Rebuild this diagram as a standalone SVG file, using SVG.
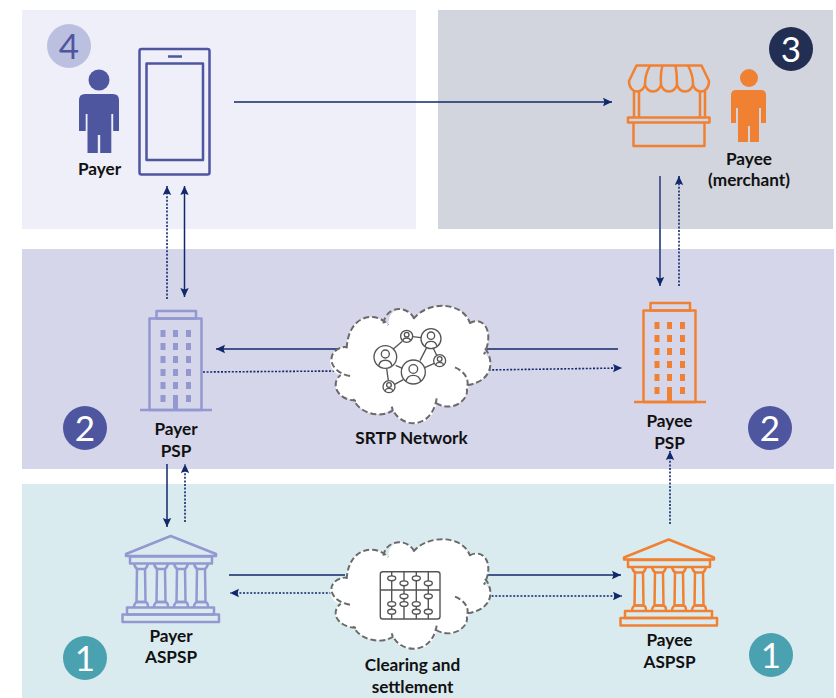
<svg xmlns="http://www.w3.org/2000/svg" xmlns:xlink="http://www.w3.org/1999/xlink" width="836" height="698" viewBox="0 0 836 698">
<style>
text{font-family:"Lato","Carlito","Open Sans",sans-serif}
.lbl{font-size:17.200px;font-weight:700;fill:#111;text-anchor:middle}
.num{font-size:35px;font-weight:400;fill:#fff;text-anchor:middle}
.ln{fill:none;stroke:#10296b;stroke-width:1.5}
.dot{stroke-dasharray:2 1.6;stroke-width:1.6}
.fade{stroke:#4f5f94;stroke-width:2}
.ic{fill:none;stroke:currentColor;stroke-width:2.5;stroke-linejoin:round}
.fl{fill:currentColor;stroke:none}
.purple{color:#4f56a0}
.lilac{color:#9498d0}
.orange{color:#f08133}
.cl{fill:#fff;stroke:none}
.cls{fill:none;stroke:#6a6a6a;stroke-width:6;stroke-dasharray:18 9}
.n{fill:none;stroke:#555;stroke-width:4}
.ab{fill:none;stroke:#555;stroke-width:1.4}
.bead{fill:#fff;stroke:#555;stroke-width:1.4}
</style>
<defs>
<marker id="a" markerUnits="userSpaceOnUse" markerWidth="10" markerHeight="10" refX="9" refY="5" orient="auto-start-reverse">
<path d="M0 0.8L9 5L0 9.2L1.5 5Z" fill="#10296b"/>
</marker>
<g id="building">
<rect class="ic" x="156.500" y="311" width="39.500" height="7.500"/>
<rect class="ic" x="149.500" y="318.500" width="52" height="91.500"/>
<path class="ic" d="M140 410H212"/>
<path class="fl" d="M160.500 330h5v7h-5zM173 330h5v7h-5zM186 330h5v7h-5zM160.500 343h5v7h-5zM173 343h5v7h-5zM186 343h5v7h-5zM160.500 356h5v7h-5zM173 356h5v7h-5zM186 356h5v7h-5zM160.500 369h5v7h-5zM173 369h5v7h-5zM186 369h5v7h-5zM160.500 382h5v7h-5zM173 382h5v7h-5zM186 382h5v7h-5zM160.500 395h5v7h-5zM173 395h5v15h-5zM186 395h5v7h-5z"/>
</g>
<g id="bank">
<path class="ic" d="M126 556L126 554L170.700 536L216 554L216 556Z"/>
<rect class="ic" x="130" y="556.500" width="82" height="7"/>
<g id="col">
<path class="ic" d="M134 564c1 3 3 5 4 5h6c2 0 3-2 4-5M137 569H145L145.500 602H136.500Z"/>
<path class="ic" d="M134 607c0-3 2-5 3-5h8c2 0 3 2 3 5"/>
</g>
<use xlink:href="#col" href="#col" x="20"/>
<use xlink:href="#col" href="#col" x="40"/>
<use xlink:href="#col" href="#col" x="60"/>
<rect class="ic" x="127" y="607.500" width="87" height="7"/>
<rect class="ic" x="122.500" y="614.500" width="96.500" height="7.500"/>
</g>
<g id="cloud">
<path class="cl" d="M80 155C85 60 165 45 205 90C205 30 265 30 283 72C325 15 430 20 450 85C490 60 525 110 492 175C520 190 525 255 445 270C450 310 400 355 350 325C335 410 235 400 215 340C190 370 120 360 105 315C50 315 30 265 62 240C20 230 15 160 80 155Z"/>
<path class="cls" d="M80 160C85 60 165 45 205 90M190 85C200 30 265 30 283 72M280 72C325 15 430 20 450 85M448 85C490 60 525 110 492 178M495 160C520 190 525 255 445 270M405 217C435 230 450 255 440 280C450 310 400 355 350 325M350 310C335 410 235 400 215 335M220 345C190 370 120 360 100 312M108 317C50 315 30 265 62 240M90 243C20 230 15 160 80 155"/>
</g>
</defs>

<g id="panels">
<rect x="22" y="10" width="394" height="219" fill="#eeeff8"/>
<rect x="438" y="10" width="395" height="219" fill="#d2d5dd"/>
<rect x="22" y="249" width="812" height="220" fill="#d6d6ea"/>
<rect x="22" y="484" width="812" height="214" fill="#daebf0"/>
</g>

<g id="connectors">
<path class="ln" marker-end="url(#a)" d="M234 102H612"/>
<path class="ln dot" marker-end="url(#a)" d="M167 299V186"/>
<path class="ln" marker-start="url(#a)" marker-end="url(#a)" d="M184.500 186V297"/>
<path class="ln fade" marker-end="url(#a)" d="M660 176V286"/>
<path class="ln dot" marker-end="url(#a)" d="M679 286V176"/>
<path class="ln" marker-end="url(#a)" d="M345 349H216"/>
<path class="ln dot" d="M203 372L340 371"/>
<path class="ln" d="M485 349H618"/>
<path class="ln dot" marker-end="url(#a)" d="M485 370L622 368"/>
<path class="ln" marker-end="url(#a)" d="M167 464V527"/>
<path class="ln dot" marker-end="url(#a)" d="M185 522V464"/>
<path class="ln dot" marker-end="url(#a)" d="M670 524V451"/>
<path class="ln" d="M229 575H345"/>
<path class="ln dot" marker-end="url(#a)" d="M335 593H230"/>
<path class="ln" marker-end="url(#a)" d="M485 575H621"/>
<path class="ln dot" marker-end="url(#a)" d="M488 596H622"/>
</g>

<g id="badge-4"><circle cx="69" cy="46" r="22" fill="#bcc0e0"/><text class="num" x="69" y="59" style="fill:#4f56a0">4</text></g>
<g id="badge-3"><circle cx="791" cy="49" r="22" fill="#222f52"/><text class="num" x="791" y="62">3</text></g>
<g id="badge-2-left"><circle cx="85" cy="428" r="22" fill="#4f56a0"/><text class="num" x="85" y="441">2</text></g>
<g id="badge-2-right"><circle cx="770" cy="428" r="22" fill="#4f56a0"/><text class="num" x="770" y="441">2</text></g>
<g id="badge-1-left"><circle cx="85" cy="658" r="22" fill="#4aa1b0"/><text class="num" x="85" y="671">1</text></g>
<g id="badge-1-right"><circle cx="771" cy="655" r="22" fill="#4aa1b0"/><text class="num" x="771" y="668">1</text></g>

<g id="payer" class="purple">
<circle class="fl" cx="99" cy="80" r="10.500"/>
<path class="fl" d="M85 94H113Q119 94 119 100V131H113.200V114H111.300V153H100.200V135H97.800V153H87.500V114H85.700V131H79V100Q79 94 85 94Z"/>
<text class="lbl" x="99.500" y="175">Payer</text>
</g>

<g id="phone" class="purple">
<rect class="ic" x="139.500" y="49" width="70" height="125.500" rx="2"/>
<rect class="ic" x="146.500" y="63.500" width="56.500" height="96.500"/>
<path class="ic" d="M168 56.500H182"/>
</g>

<g id="stall" class="orange">
<path class="ic" d="M636.500 65.500H701.500L709 81C709 88 705 91.500 701 91.500C697 91.500 693 88 693 84C693 88 689 91.500 685 91.500C681 91.500 677 88 677 84C677 88 673 91.500 669 91.500C665 91.500 661 88 661 84C661 88 657 91.500 653 91.500C649 91.500 645 88 645 84C645 88 641 91.500 637 91.500C633 91.500 629 88 629 81Z"/>
<path class="ic" d="M650 65.500C647 71 645 77 645 84M662.500 65.500C661 71 660.500 77 661 84M675.500 65.500C676.500 71 677 77 677 84M688 65.500C691 71 693 77 693 84"/>
<path class="ic" d="M634 91V117M639 91V117M700 91V117M705 91V117"/>
<rect class="ic" x="628" y="117.500" width="81.500" height="5"/>
<path class="ic" d="M633.500 122.500V146H704.500V122.500"/>
</g>

<g id="payee" class="orange">
<circle class="fl" cx="749" cy="78" r="9"/>
<path class="fl" d="M736 90H761Q766 90 766 95V123H761V108H759V142H750V126H748V142H738V108H736V123H731V95Q731 90 736 90Z"/>
<text class="lbl" x="749" y="165">Payee</text>
<text class="lbl" x="749" y="186">(merchant)</text>
</g>

<g id="payer-psp" class="lilac">
<use xlink:href="#building" href="#building"/>
<text class="lbl" x="176" y="435">Payer</text>
<text class="lbl" x="176" y="457">PSP</text>
</g>

<g id="payee-psp" class="orange">
<use xlink:href="#building" href="#building" x="494" y="-8"/>
<text class="lbl" x="669.500" y="427">Payee</text>
<text class="lbl" x="669.500" y="449">PSP</text>
</g>

<g id="srtp-network">
<use xlink:href="#cloud" href="#cloud" transform="translate(320 295) scale(.3333)"/>
<g transform="translate(320 295) scale(.3333)">
<circle class="n" cx="260" cy="124" r="18"/><circle class="n" cx="333" cy="131" r="30"/><circle class="n" cx="196" cy="186" r="34"/><circle class="n" cx="280" cy="231" r="36"/><circle class="n" cx="359" cy="197" r="18"/><circle class="n" cx="207" cy="275" r="18"/>
<path class="n" d="M278 125L303 128M220 162L247 139M320 158L300 197M314 218L343 205M227 211L247 220M200 220L205 257M224 268L250 254M340 160L350 181"/>
<circle class="n" cx="260" cy="119" r="7"/><path class="n" d="M248 138C250 126 270 126 272 138"/>
<circle class="n" cx="333" cy="122" r="11"/><path class="n" d="M315 155C318 134 348 134 351 155"/>
<circle class="n" cx="196" cy="177" r="12"/><path class="n" d="M176 213C180 190 212 190 216 213"/>
<circle class="n" cx="280" cy="222" r="13"/><path class="n" d="M258 260C262 235 298 235 302 260"/>
<circle class="n" cx="359" cy="192" r="7"/><path class="n" d="M347 211C349 199 369 199 371 211"/>
<circle class="n" cx="207" cy="270" r="7"/><path class="n" d="M195 289C197 277 217 277 219 289"/>
</g>
<text class="lbl" x="411.500" y="444">SRTP Network</text>
</g>

<g id="payer-aspsp" class="lilac">
<use xlink:href="#bank" href="#bank"/>
<text class="lbl" x="171" y="642">Payer</text>
<text class="lbl" x="171" y="663">ASPSP</text>
</g>

<g id="payee-aspsp" class="orange">
<use xlink:href="#bank" href="#bank" x="498" y="3.500"/>
<text class="lbl" x="669.500" y="646">Payee</text>
<text class="lbl" x="669.500" y="668">ASPSP</text>
</g>

<g id="clearing-settlement">
<use xlink:href="#cloud" href="#cloud" transform="translate(320 529.200) scale(.3333 .311)"/>
<rect class="ab" x="380.300" y="571.700" width="59.700" height="47.300" rx="2.500"/>
<path class="ab" d="M380.300 590H440M391.700 571.700V619M404 571.700V619M416.300 571.700V619M428.300 571.700V619"/>
<ellipse class="bead" cx="391.700" cy="578.300" rx="4" ry="2.400"/><ellipse class="bead" cx="391.700" cy="604" rx="4" ry="2.400"/><ellipse class="bead" cx="391.700" cy="611.700" rx="4" ry="2.400"/>
<ellipse class="bead" cx="404" cy="583.300" rx="4" ry="2.400"/><ellipse class="bead" cx="404" cy="596.300" rx="4" ry="2.400"/><ellipse class="bead" cx="404" cy="604" rx="4" ry="2.400"/>
<ellipse class="bead" cx="416.300" cy="578.300" rx="4" ry="2.400"/><ellipse class="bead" cx="416.300" cy="604" rx="4" ry="2.400"/><ellipse class="bead" cx="416.300" cy="611.700" rx="4" ry="2.400"/>
<ellipse class="bead" cx="428.300" cy="583.300" rx="4" ry="2.400"/><ellipse class="bead" cx="428.300" cy="596.300" rx="4" ry="2.400"/><ellipse class="bead" cx="428.300" cy="611.700" rx="4" ry="2.400"/>
<text class="lbl" x="412.500" y="671">Clearing and</text>
<text class="lbl" x="412.500" y="693">settlement</text>
</g>
</svg>
